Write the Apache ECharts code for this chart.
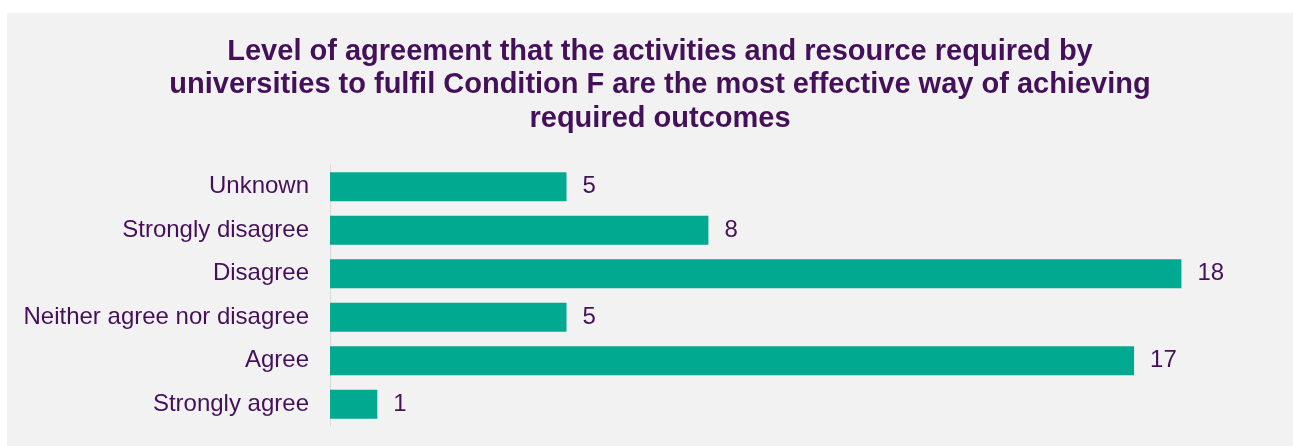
<!DOCTYPE html>
<html>
<head>
<meta charset="utf-8">
<script src="https://cdn.jsdelivr.net/npm/echarts@6/dist/echarts.min.js"></script>
<style>
  html, body { margin: 0; padding: 0; background: #ffffff; }
  #panel { position: absolute; left: 7px; top: 13px; width: 1286px; height: 433px; background: #f2f2f2; }
  #chart { width: 1286px; height: 433px; }
</style>
</head>
<body>
<div id="panel"><div id="chart"></div></div>
<script>
// Survey responses, listed bottom to top as drawn on the category axis
const categories = ['Strongly agree', 'Agree', 'Neither agree nor disagree', 'Disagree', 'Strongly disagree', 'Unknown'];
const responses = [1, 17, 5, 18, 8, 5];
const titleText = 'Level of agreement that the activities and resource required by\nuniversities to fulfil Condition F are the most effective way of achieving\nrequired outcomes';

const textColor = '#45105a';
const fontStack = 'Liberation Sans, Arial, sans-serif';
const chart = echarts.init(document.getElementById('chart'), null, { renderer: 'canvas' });
chart.setOption({
  backgroundColor: 'transparent',
  animation: false,
  title: {
    text: titleText,
    left: 648,
    top: 17,
    textAlign: 'center',
    textStyle: {
      fontFamily: fontStack,
      fontWeight: 'bold',
      fontSize: 29,
      lineHeight: 33.5,
      color: textColor
    }
  },
  grid: { left: 323, top: 152, right: 17, bottom: 20, containLabel: false },
  xAxis: {
    type: 'value',
    min: 0,
    max: 20,
    show: false
  },
  yAxis: {
    type: 'category',
    data: categories,
    axisLine: { show: true, lineStyle: { color: '#d9d9d9', width: 1 } },
    axisTick: { show: false },
    axisLabel: {
      margin: 21,
      fontFamily: fontStack,
      fontSize: 24,
      color: textColor
    }
  },
  series: [{
    type: 'bar',
    data: responses,
    barWidth: 29,
    itemStyle: { color: '#00a98f' },
    label: {
      show: true,
      position: 'right',
      distance: 16,
      fontFamily: fontStack,
      fontSize: 24,
      color: textColor
    }
  }]
});
</script>
</body>
</html>
